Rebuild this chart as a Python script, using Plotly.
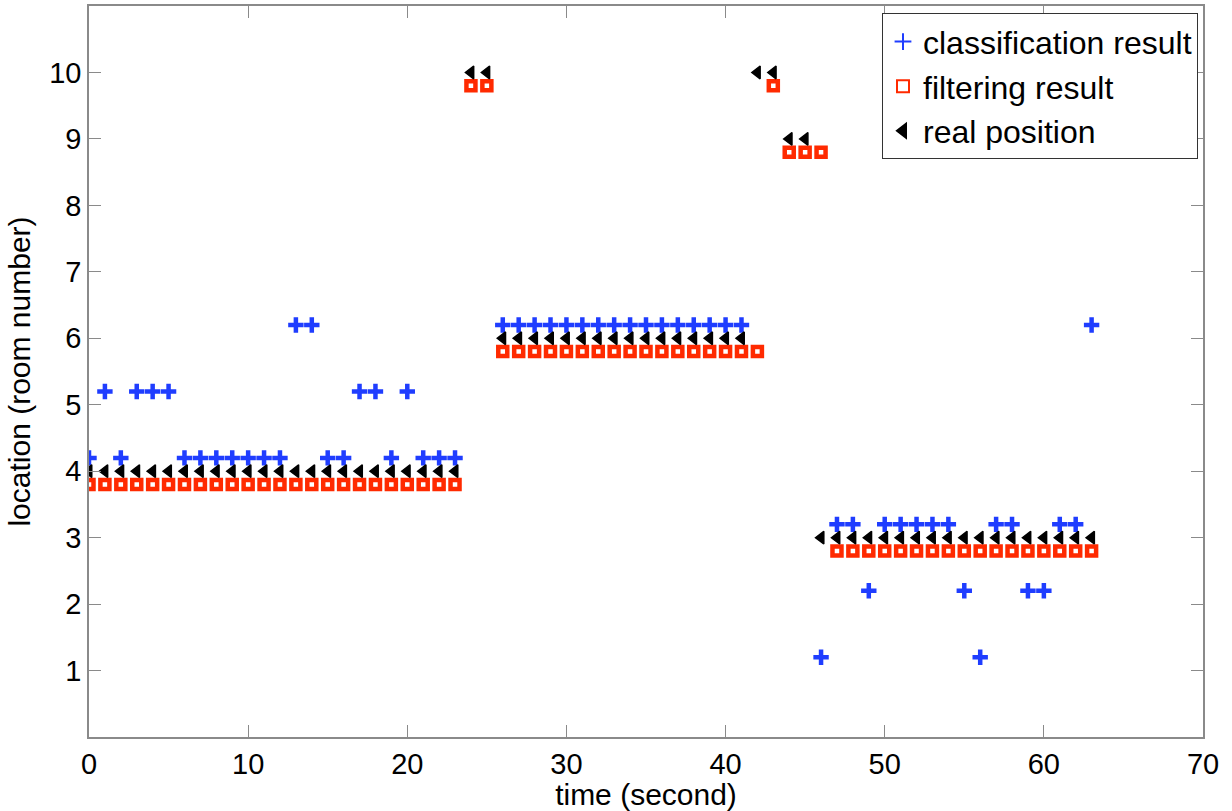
import plotly.graph_objects as go

time = list(range(64))

classification = [4, 5, 4, 5, 5, 5, 4, 4, 4, 4, 4, 4, 4, 6, 6, 4, 4, 5, 5, 4,
                  5, 4, 4, 4, None, None, 6, 6, 6, 6, 6, 6, 6, 6, 6, 6, 6, 6, 6, 6,
                  6, 6, None, None, None, None, 1, 3, 3, 2, 3, 3, 3, 3, 3, 2, 1, 3, 3, 2,
                  2, 3, 3, 6]
filtering = [4] * 24 + [10, 10] + [6] * 17 + [10] + [9, 9, 9] + [3] * 17
real_position = [4] * 24 + [10, 10] + [6] * 16 + [10, 10] + [9, 9] + [3] * 18

# display offsets so the three markers don't overlap
CLS_OFF = 0.2
FLT_OFF = -0.2

x_ticks = [0, 10, 20, 30, 40, 50, 60, 70]
y_ticks = [1, 2, 3, 4, 5, 6, 7, 8, 9, 10]

FONT = "Liberation Sans, Arial, sans-serif"

fig = go.Figure()
fig.add_trace(go.Scatter(
    x=time, y=[None if v is None else v + CLS_OFF for v in classification],
    mode="markers", name="classification result",
    marker=dict(symbol="cross-thin-open", size=11, color="#1f3dff",
                line=dict(width=4.5, color="#1f3dff")),
))
fig.add_trace(go.Scatter(
    x=time, y=[v + FLT_OFF for v in filtering],
    mode="markers", name="filtering result",
    marker=dict(symbol="square-open", size=9, color="#ff2a00",
                line=dict(width=4.5, color="#ff2a00")),
))
fig.add_trace(go.Scatter(
    x=time, y=real_position,
    mode="markers", name="real position",
    marker=dict(symbol="triangle-left", size=11, color="black",
                line=dict(width=1.5, color="black")),
))

axis_common = dict(
    showgrid=False, zeroline=False, showline=True, linecolor="#8a8a8a",
    linewidth=1.5, mirror="allticks", ticks="inside", ticklen=12,
    tickcolor="#8a8a8a", tickwidth=1.2, automargin=False,
    tickfont=dict(family=FONT, size=29, color="black"),
)

fig.update_layout(
    width=1232, height=811,
    paper_bgcolor="white", plot_bgcolor="white",
    margin=dict(l=89, r=29, t=6, b=74, autoexpand=False),
    font=dict(family=FONT, color="black"),
    xaxis=dict(range=[0, 70], tickvals=x_ticks,
               title=dict(text="time (second)", font=dict(size=30), standoff=0),
               **axis_common),
    yaxis=dict(range=[0, 11], tickvals=y_ticks,
               title=dict(text="location (room number)", font=dict(size=30), standoff=10),
               **axis_common),
    legend=dict(x=0.9955, xanchor="right", y=0.99, yanchor="top",
                bgcolor="white", bordercolor="#333333", borderwidth=1,
                font=dict(size=32, color="black"), itemsizing="constant",
                tracegroupgap=0),
    showlegend=True,
)

fig.write_html("out.html", config={"displayModeBar": False},
               post_script="document.body.style.margin='0';")
